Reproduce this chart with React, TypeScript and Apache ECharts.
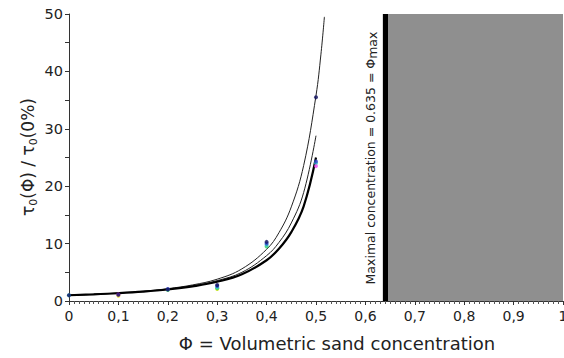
import React, { useEffect, useRef } from "react";
import * as echarts from "echarts";

const phiMax = 0.635;
const xTicks = [0, 0.1, 0.2, 0.3, 0.4, 0.5, 0.6, 0.7, 0.8, 0.9, 1];

const curveX = [0, 0.05, 0.1, 0.15, 0.2, 0.25, 0.3, 0.35, 0.4, 0.425, 0.45, 0.475, 0.5];
const curveTopX = [0, 0.05, 0.1, 0.15, 0.2, 0.25, 0.3, 0.35, 0.4, 0.425, 0.45, 0.475, 0.5, 0.51, 0.517];
const curveTopY = [1, 1.17, 1.4, 1.7, 2.15, 2.8, 3.8, 5.6, 9.0, 11.9, 16.4, 23.6, 35.8, 43, 49.5];
const curveMidY = [1, 1.16, 1.38, 1.66, 2.08, 2.65, 3.55, 5.0, 7.9, 10.2, 13.6, 18.9, 28.8];
const curveLowY = [1, 1.15, 1.35, 1.62, 2.0, 2.55, 3.35, 4.65, 7.1, 9.1, 12.0, 16.5, 25.0];

const navyPts = [[0, 1], [0.1, 1.1], [0.2, 2.0], [0.3, 2.8], [0.4, 10.3], [0.5, 35.5]];
const bluePts = [[0.2, 2.1], [0.3, 2.6], [0.4, 10.0], [0.5, 24.3]];
const cyanPts = [[0, 1], [0.3, 2.4], [0.4, 9.8], [0.5, 24.0]];
const greenPts = [[0.2, 1.9], [0.3, 2.2], [0.4, 9.5]];
const yellowPts = [[0.1, 0.9], [0.3, 2.1]];
const magentaPts = [[0.1, 1.15], [0.5, 23.5]];

const zip = (xs: number[], ys: number[]) => ys.map((y, i) => [xs[i], y]);

export default function App() {
  const ref = useRef<HTMLDivElement>(null);
  useEffect(() => {
    document.body.style.margin = "0";
    const chart = echarts.init(ref.current!, undefined, { renderer: "svg" });
    const font = "DejaVu Sans";
    const line = (data: number[][], w: number, color: string) => ({
      type: "line",
      data,
      smooth: 0.4,
      showSymbol: false,
      lineStyle: { width: w, color },
      z: 3,
    });
    const pts = (data: number[][], color: string) => ({
      type: "scatter",
      data,
      symbol: "circle",
      symbolSize: 4,
      itemStyle: { color },
      z: 4,
    });
    chart.setOption({
      animation: false,
      textStyle: { fontFamily: font },
      grid: { left: 69, right: 1, top: 14, bottom: 57, containLabel: false, outerBoundsMode: "none" },
      xAxis: {
        type: "value",
        min: 0,
        max: 1,
        interval: 0.1,
        axisLine: { lineStyle: { color: "#333", width: 1 } },
        axisTick: { show: true, length: 4, lineStyle: { color: "#333" } },
        minorTick: { show: true, splitNumber: 10, length: 3, lineStyle: { color: "#555" } },
        splitLine: { show: false },
        axisLabel: {
          color: "#222",
          fontSize: 14,
          margin: 8,
          fontFamily: font,
          formatter: (v: number) => {
            const t = xTicks.find((k) => Math.abs(k - v) < 1e-6);
            const val = t === undefined ? v : t;
            if (val === 0) return "0";
            if (val === 1) return "1";
            return val.toFixed(1).replace(".", ",");
          },
        },
      },
      yAxis: {
        type: "value",
        min: 0,
        max: 50,
        interval: 10,
        axisLine: { show: true, lineStyle: { color: "#333", width: 1 } },
        axisTick: { show: true, length: 4, lineStyle: { color: "#333" } },
        minorTick: { show: true, splitNumber: 2, length: 4, lineStyle: { color: "#333" } },
        splitLine: { show: false },
        axisLabel: { color: "#222", fontSize: 14.5, margin: 6, fontFamily: font },
      },
      graphic: [
        {
          type: "text",
          x: 28,
          y: 157,
          rotation: Math.PI / 2,
          style: {
            text: "{a|τ}{s|0}{a|(Φ) / τ}{s|0}{a|(0%)}",
            align: "center",
            verticalAlign: "middle",
            fill: "#222",
            rich: {
              a: { fontSize: 17, fontFamily: font, fill: "#222", lineHeight: 22, verticalAlign: "middle" },
              s: { fontSize: 11, fontFamily: font, fill: "#222", lineHeight: 22, verticalAlign: "bottom" },
            },
          },
        },
        {
          type: "text",
          x: 337,
          y: 343,
          style: {
            text: "Φ = Volumetric sand concentration",
            align: "center",
            verticalAlign: "middle",
            fontSize: 18,
            fontFamily: font,
            fill: "#222",
          },
        },
        {
          type: "text",
          x: 370,
          y: 158,
          rotation: Math.PI / 2,
          z: 10,
          style: {
            text: "{a|Maximal concentration = 0.635 = Φ}{s|max}",
            align: "center",
            verticalAlign: "middle",
            fill: "#222",
            rich: {
              a: { fontSize: 12.5, fontFamily: font, fill: "#222", lineHeight: 18, verticalAlign: "middle" },
              s: { fontSize: 12.5, fontFamily: font, fill: "#222", lineHeight: 18, verticalAlign: "bottom" },
            },
          },
        },
      ],
      series: [
        {
          type: "line",
          data: [],
          silent: true,
          markArea: {
            silent: true,
            itemStyle: { color: "#8f8f8f", opacity: 1 },
            data: [[{ xAxis: phiMax, yAxis: 0 }, { xAxis: 1, yAxis: 50 }]],
          },
          markLine: {
            silent: true,
            symbol: "none",
            label: { show: false },
            lineStyle: { color: "#000", width: 5, type: "solid" },
            data: [{ xAxis: phiMax }],
          },
          z: 1,
        },
        line(zip(curveTopX, curveTopY), 1, "#222"),
        line(zip(curveX, curveMidY), 1, "#222"),
        line(zip(curveX, curveLowY), 2.2, "#000"),
        pts(yellowPts, "#e8e800"),
        pts(greenPts, "#33cc66"),
        pts(cyanPts, "#33cccc"),
        pts(magentaPts, "#ee44ee"),
        pts(bluePts, "#3344cc"),
        pts(navyPts, "#101060"),
      ],
    });
    return () => chart.dispose();
  }, []);
  return <div ref={ref} style={{ width: 564, height: 358 }} />;
}
